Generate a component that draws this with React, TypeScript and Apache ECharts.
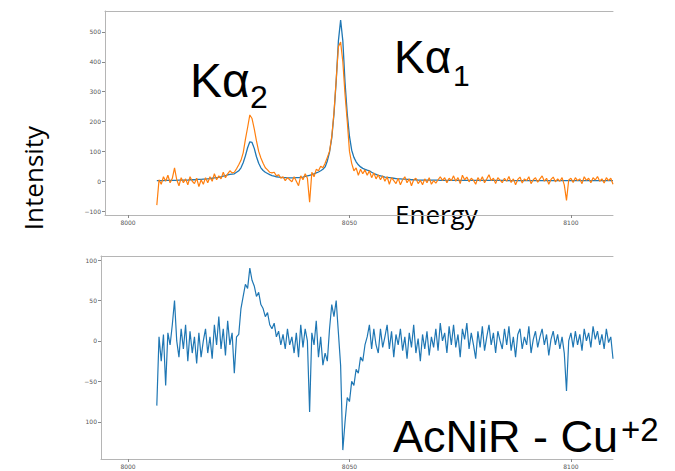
import React, { useEffect, useRef } from "react";
import * as echarts from "echarts";

// Energy grid (eV): first sample and spacing
const energyStart = 8006.5;
const energyStep = 0.5;

// Measured spectrum (orange), one value per 0.5 eV, 8006.5 .. 8109.5
const measured = [
  -80, 5, -10, 15, 0, 20, -5, 10, 45, 5,
  -15, 12, -5, 8, -12, 15, 0, -8, 10, -18,
  5, -10, 12, -5, 15, 0, 25, 5, 18, 8,
  30, 12, 25, 35, 28, 30, 42, 55, 70, 95,
  140, 180, 222, 210, 175, 135, 100, 78, 60, 45,
  38, 30, 28, 30, 18, 22, 10, 15, 2, 12,
  5, -2, 15, 0, -15, 18, 5, 25, 10, -70,
  30, 15, 40, 35, 50, 45, 60, 80, 100, 150,
  230, 340, 450, 466, 400, 290, 200, 100, 60, 35,
  45, 20, 40, 25, 38, 20, 35, 12, 28, 8,
  22, 5, 18, 0, 15, -10, 12, 2, -8, 10,
  -12, 5, 15, -5, 8, -15, 5, 10, -8, 3,
  -12, 8, -5, 12, -10, 2, -6, 5, 15, 3,
  12, -5, 10, 2, 18, 0, 12, -8, 20, 5,
  14, -2, 10, 3, -10, 12, 0, 15, -5, 8,
  22, 2, 10, -8, 12, 4, -5, 10, 0, 16,
  -4, 8, -12, 6, 14, -6, 8, 2, 15, -8,
  5, 12, -3, 8, 18, 0, 10, -10, 6, 14,
  -2, 8, 0, 12, -12, -64, 4, 10, -4, 12,
  2, 8, -8, 15, 3, 10, -5, 12, 4, 16,
  0, 8, -6, 12, 2, 10, -10,
];

// Fitted curve (blue, top panel)
const fitted = [
  2, 2, 2, 2, 3, 3, 3, 3, 3, 3,
  4, 4, 4, 4, 4, 5, 5, 5, 6, 6,
  6, 7, 7, 8, 9, 10, 11, 12, 13, 15,
  17, 19, 21, 23, 24, 25, 30, 35, 45, 62,
  85, 112, 132, 130, 110, 82, 60, 45, 36, 30,
  26, 22, 19, 17, 15, 14, 13, 12, 12, 11,
  11, 11, 11, 12, 12, 13, 14, 16, 18, 20,
  22, 25, 28, 31, 35, 40, 48, 68, 98, 145,
  225, 335, 470, 540, 470, 330, 225, 150, 104, 80,
  65, 55, 48, 43, 40, 37, 35, 30, 26, 23,
  20, 18, 16, 14, 13, 12, 11, 10, 9, 8,
  8, 7, 7, 6, 6, 5, 5, 5, 4, 4,
  4, 4, 4, 4, 4, 4, 4, 4, 3, 3,
  3, 3, 3, 3, 3, 3, 3, 3, 3, 3,
  3, 3, 3, 3, 3, 3, 3, 3, 3, 3,
  3, 3, 3, 3, 3, 3, 3, 3, 2, 2,
  2, 2, 2, 2, 2, 2, 2, 2, 2, 2,
  2, 2, 2, 2, 2, 2, 2, 2, 2, 2,
  2, 2, 2, 2, 2, 2, 2, 2, 2, 2,
  2, 2, 2, 2, 2, 2, 2, 2, 2, 2,
  2, 2, 2, 2, 2, 2, 2,
];

// Residual (blue, bottom panel)
const residual = [
  -80, 5, -25, 8, -55, 10, -5, 20, 50, 0,
  -20, 15, -10, 20, -25, 12, -15, 5, -28, 10,
  -20, 0, 15, -15, 5, -22, 20, -5, 30, -10,
  15, -18, 25, -5, 10, -40, 5, 8, 40, 55,
  70, 65, 90, 75, 68, 55, 60, 45, 40, 30,
  35, 20, 15, 22, 5, 12, -5, 8, -10, 15,
  -5, 5, -15, 10, -20, 20, -8, 15, 0, -88,
  10, -5, 25, -20, 5, -30, -15, -25, 15, 45,
  30, 50, 10, -30, -135, -100, -70, -75, -50, -55,
  -35, -40, -20, -25, -5, 5, 20, -10, 15, -5,
  -15, 15, -8, 5, 20, -10, 12, -20, 8, -5,
  15, -12, 5, -22, 10, -8, 20, -15, 3, -25,
  8, -10, 12, -18, 5, -8, 15, -12, 22, 0,
  10, -15, 18, -5, 20, -8, 8, -20, 15, 2,
  22, -10, 10, -5, -22, 12, -8, 18, -12, 5,
  20, -5, 10, -15, 12, 0, -10, 15, -5, 18,
  -12, 5, -20, 8, 15, -10, 5, -5, 18, -15,
  2, 12, -8, 5, 15, -5, 8, -18, 2, 12,
  -5, 8, -10, 5, -15, -62, 0, 10, -8, 12,
  -5, 8, -12, 15, 0, 10, -8, 18, 2, 12,
  -5, 8, -10, 15, -2, 5, -22,
];

const xTicks = [8000, 8050, 8100];
const topYTicks = [500, 400, 300, 200, 100, 0, -100];
const bottomYTicks = [100, 50, 0, -50, -100];

const toPairs = (vals: number[]) =>
  vals.map((v, i) => [energyStart + i * energyStep, v]);

const AXIS_COLOR = "#b5b5b5";
const LABEL_COLOR = "#555";
const ORANGE = "#ff7f0e";
const BLUE = "#1f77b4";

function xAxisCfg(gridIndex: number, min: number, max: number) {
  return {
    type: "value",
    gridIndex,
    min,
    max,
    position: "bottom",
    splitLine: { show: false },
    axisLine: { show: true, onZero: false, lineStyle: { color: AXIS_COLOR, width: 1 } },
    axisTick: { show: true, length: 3, customValues: xTicks, lineStyle: { color: "#888" } },
    axisLabel: {
      customValues: xTicks,
      fontSize: 6,
      color: LABEL_COLOR,
      margin: 4,
      fontFamily: "DejaVu Sans",
      formatter: (v: number) => String(v),
    },
  };
}

function topBorderAxis(gridIndex: number) {
  return {
    type: "value",
    gridIndex,
    position: "top",
    min: 0,
    max: 1,
    splitLine: { show: false },
    axisLine: { show: true, onZero: false, lineStyle: { color: AXIS_COLOR, width: 1 } },
    axisTick: { show: false },
    axisLabel: { show: false },
  };
}

const minus = (v: number) => (v < 0 ? "\u2212" + Math.abs(v) : String(v));

export default function App() {
  const ref = useRef<HTMLDivElement>(null);

  useEffect(() => {
    if (!ref.current) return;
    const chart = echarts.init(ref.current, null, { renderer: "svg" });
    const option: any = {
      animation: false,
      backgroundColor: "#ffffff",
      grid: [
        { left: 105, top: 11, width: 508, height: 204, outerBoundsMode: "none" },
        { left: 101, top: 256, width: 512, height: 203, outerBoundsMode: "none" },
      ],
      xAxis: [
        xAxisCfg(0, 7994.8, 8109.5),
        xAxisCfg(1, 7993.9, 8109.5),
        topBorderAxis(0),
        topBorderAxis(1),
      ],
      yAxis: [
        {
          type: "value",
          gridIndex: 0,
          min: -113,
          max: 570,
          splitLine: { show: false },
          axisLine: { show: true, onZero: false, lineStyle: { color: AXIS_COLOR, width: 1 } },
          axisTick: { show: true, length: 3, customValues: topYTicks, lineStyle: { color: "#888" } },
          axisLabel: {
            customValues: topYTicks,
            fontSize: 6,
            color: LABEL_COLOR,
            margin: 4,
            fontFamily: "DejaVu Sans",
            formatter: (v: number) => minus(v),
          },
        },
        {
          type: "value",
          gridIndex: 1,
          min: -146,
          max: 105,
          splitLine: { show: false },
          axisLine: { show: true, onZero: false, lineStyle: { color: AXIS_COLOR, width: 1 } },
          axisTick: { show: true, length: 3, customValues: bottomYTicks, lineStyle: { color: "#888" } },
          axisLabel: {
            customValues: bottomYTicks,
            fontSize: 6,
            color: LABEL_COLOR,
            margin: 4,
            fontFamily: "DejaVu Sans",
            formatter: (v: number) => (v === -100 ? "100" : minus(v)),
          },
        },
      ],
      series: [
        {
          type: "line",
          name: "fit",
          xAxisIndex: 0,
          yAxisIndex: 0,
          data: toPairs(fitted),
          showSymbol: false,
          lineStyle: { color: BLUE, width: 1.3 },
          z: 2,
        },
        {
          type: "line",
          name: "data",
          xAxisIndex: 0,
          yAxisIndex: 0,
          data: toPairs(measured),
          showSymbol: false,
          lineStyle: { color: ORANGE, width: 1.2 },
          z: 3,
        },
        {
          type: "line",
          name: "residual",
          xAxisIndex: 1,
          yAxisIndex: 1,
          data: toPairs(residual),
          showSymbol: false,
          lineStyle: { color: BLUE, width: 1.2 },
          z: 3,
        },
      ],
      graphic: [
        {
          type: "text",
          x: 33,
          y: 178,
          rotation: Math.PI / 2,
          style: {
            text: "Intensity",
            font: "26px 'Open Sans'",
            fill: "#000",
            align: "center",
            verticalAlign: "middle",
          },
        },
        {
          type: "text",
          x: 190,
          y: 80,
          style: { text: "Kα", font: "48px 'Liberation Sans'", fill: "#000", align: "left", verticalAlign: "middle" },
        },
        {
          type: "text",
          x: 250,
          y: 97,
          style: { text: "2", font: "32px 'Liberation Sans'", fill: "#000", align: "left", verticalAlign: "middle" },
        },
        {
          type: "text",
          x: 394,
          y: 57,
          style: { text: "Kα", font: "46px 'Liberation Sans'", fill: "#000", align: "left", verticalAlign: "middle" },
        },
        {
          type: "text",
          x: 453,
          y: 75,
          style: { text: "1", font: "30px 'Liberation Sans'", fill: "#000", align: "left", verticalAlign: "middle" },
        },
        {
          type: "text",
          x: 395,
          y: 214,
          style: { text: "Energy", font: "26px 'Open Sans'", fill: "#000", align: "left", verticalAlign: "middle" },
        },
        {
          type: "text",
          x: 393,
          y: 436,
          style: {
            text: "AcNiR - Cu",
            font: "45px 'Liberation Sans'",
            fill: "#000",
            align: "left",
            verticalAlign: "middle",
          },
        },
        {
          type: "text",
          x: 621,
          y: 429,
          style: {
            text: "+2",
            font: "33px 'Liberation Sans'",
            fill: "#000",
            align: "left",
            verticalAlign: "middle",
          },
        },
      ],
    };
    chart.setOption(option);
    return () => chart.dispose();
  }, []);

  return (
    <div
      ref={ref}
      style={{ position: "fixed", left: 0, top: 0, width: 675, height: 471, background: "#fff" }}
    />
  );
}
